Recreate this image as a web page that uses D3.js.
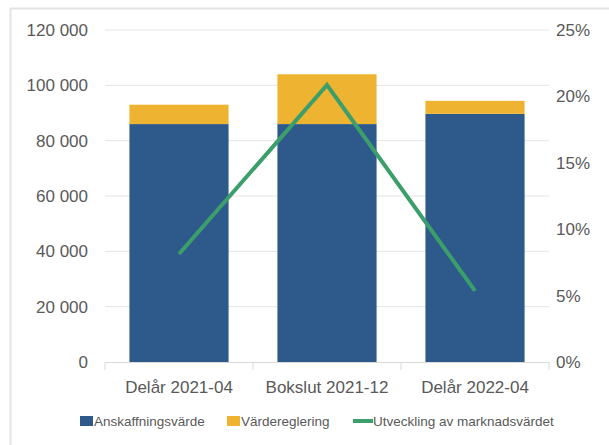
<!DOCTYPE html>
<html>
<head>
<meta charset="utf-8">
<script src="https://cdn.jsdelivr.net/npm/d3@7"></script>
<style>
  body { margin: 0; background: #fff; }
  text { font-family: "Liberation Sans", Arial, sans-serif; fill: #595959; }
</style>
</head>
<body>
<script>
const categories = ["Delår 2021-04", "Bokslut 2021-12", "Delår 2022-04"]
const anskaffning = [86000, 86000, 89700]
const vardereglering = [7000, 18000, 4700]
const utveckling = [0.0813, 0.2086, 0.0535]

const leftTicks = [0, 20000, 40000, 60000, 80000, 100000, 120000]
const rightTicks = [0, 0.05, 0.10, 0.15, 0.20, 0.25]

const colors = {blue: "#2e5a8b", orange: "#efb332", green: "#3c9f6b"}

// ============ layout ============
const width = 609, height = 445;
const margin = {left: 105, right: 60, top: 30, bottom: 83};

const svg = d3.select("body").append("svg")
  .attr("width", width)
  .attr("height", height);

// outer frame
svg.append("rect")
  .attr("x", 10.5).attr("y", 8.5)
  .attr("width", 640).attr("height", 460)
  .attr("fill", "none")
  .attr("stroke", "#e3e3e3")
  .attr("stroke-width", 2);

const g = svg.append("g")
  .attr("transform", `translate(${margin.left}, ${margin.top})`);

const w = width - margin.left - margin.right;   // 444
const h = height - margin.top - margin.bottom;  // 332

// ============ scales ============
const x = d3.scaleBand().domain(categories).range([0, w]).paddingInner(0.33).paddingOuter(0.165);
const y = d3.scaleLinear().domain([0, 120000]).range([h, 0]);
const y2 = d3.scaleLinear().domain([0, 0.25]).range([h, 0]);
const xCenter = d => x(d) + x.bandwidth() / 2;

// gridlines
g.selectAll(".grid").data(leftTicks.slice(1)).enter()
  .append("line")
  .attr("x1", 0).attr("x2", w)
  .attr("y1", d => y(d)).attr("y2", d => y(d))
  .attr("stroke", "#e4e4e4").attr("stroke-width", 1);

// ============ bars ============
const stackData = categories.map((c, i) => ({cat: c, a: anskaffning[i], v: vardereglering[i]}));
const stack = d3.stack().keys(["a", "v"])(stackData);
const fill = {a: colors.blue, v: colors.orange};

g.selectAll(".series").data(stack).enter()
  .append("g")
  .attr("fill", d => fill[d.key])
  .selectAll("rect").data(d => d).enter()
  .append("rect")
  .attr("x", d => x(d.data.cat))
  .attr("y", d => y(d[1]))
  .attr("width", x.bandwidth())
  .attr("height", d => y(d[0]) - y(d[1]));

// ============ line ============
const line = d3.line()
  .x((d, i) => xCenter(categories[i]))
  .y(d => y2(d));

g.append("path")
  .datum(utveckling)
  .attr("d", line)
  .attr("fill", "none")
  .attr("stroke", colors.green)
  .attr("stroke-width", 4);

// ============ axes ============
const xAxis = g.append("g").attr("transform", `translate(0, ${h})`)
  .call(d3.axisBottom(x).tickSize(0).tickPadding(19));
xAxis.select(".domain").attr("stroke", "#d9d9d9");
xAxis.selectAll("text").attr("font-size", 17).attr("fill", "#595959");
// category boundary ticks
const step = x.step();
xAxis.selectAll(".sep").data(d3.range(categories.length + 1)).enter()
  .append("line")
  .attr("x1", d => d * step).attr("x2", d => d * step)
  .attr("y1", 0).attr("y2", 8)
  .attr("stroke", "#d9d9d9");

const fmt = d => d3.format(",")(d).replace(/,/g, " ");
const yAxis = g.append("g")
  .call(d3.axisLeft(y).tickValues(leftTicks).tickFormat(fmt).tickSize(0).tickPadding(17));
yAxis.select(".domain").remove();
yAxis.selectAll("text").attr("font-size", 17).attr("fill", "#595959");

const y2Axis = g.append("g").attr("transform", `translate(${w}, 0)`)
  .call(d3.axisRight(y2).tickValues(rightTicks).tickFormat(d3.format(".0%")).tickSize(0).tickPadding(7));
y2Axis.select(".domain").remove();
y2Axis.selectAll("text").attr("font-size", 17).attr("fill", "#595959");

// ============ legend ============
const legendItems = [
  {label: "Anskaffningsvärde", color: colors.blue, type: "rect", x: 80},
  {label: "Värdereglering", color: colors.orange, type: "rect", x: 227},
  {label: "Utveckling av marknadsvärdet", color: colors.green, type: "line", x: 353}
];
const legend = svg.append("g").attr("transform", "translate(0, 421)");
legendItems.forEach(item => {
  if (item.type === "rect") {
    legend.append("rect").attr("x", item.x).attr("y", -5).attr("width", 13).attr("height", 10).attr("fill", item.color);
  } else {
    legend.append("line").attr("x1", item.x).attr("x2", item.x + 20).attr("y1", 0).attr("y2", 0)
      .attr("stroke", item.color).attr("stroke-width", 4);
  }
  legend.append("text")
    .attr("x", item.x + (item.type === "rect" ? 14 : 20))
    .attr("y", 5)
    .attr("font-size", 13.5)
    .text(item.label);
});
</script>
</body>
</html>
